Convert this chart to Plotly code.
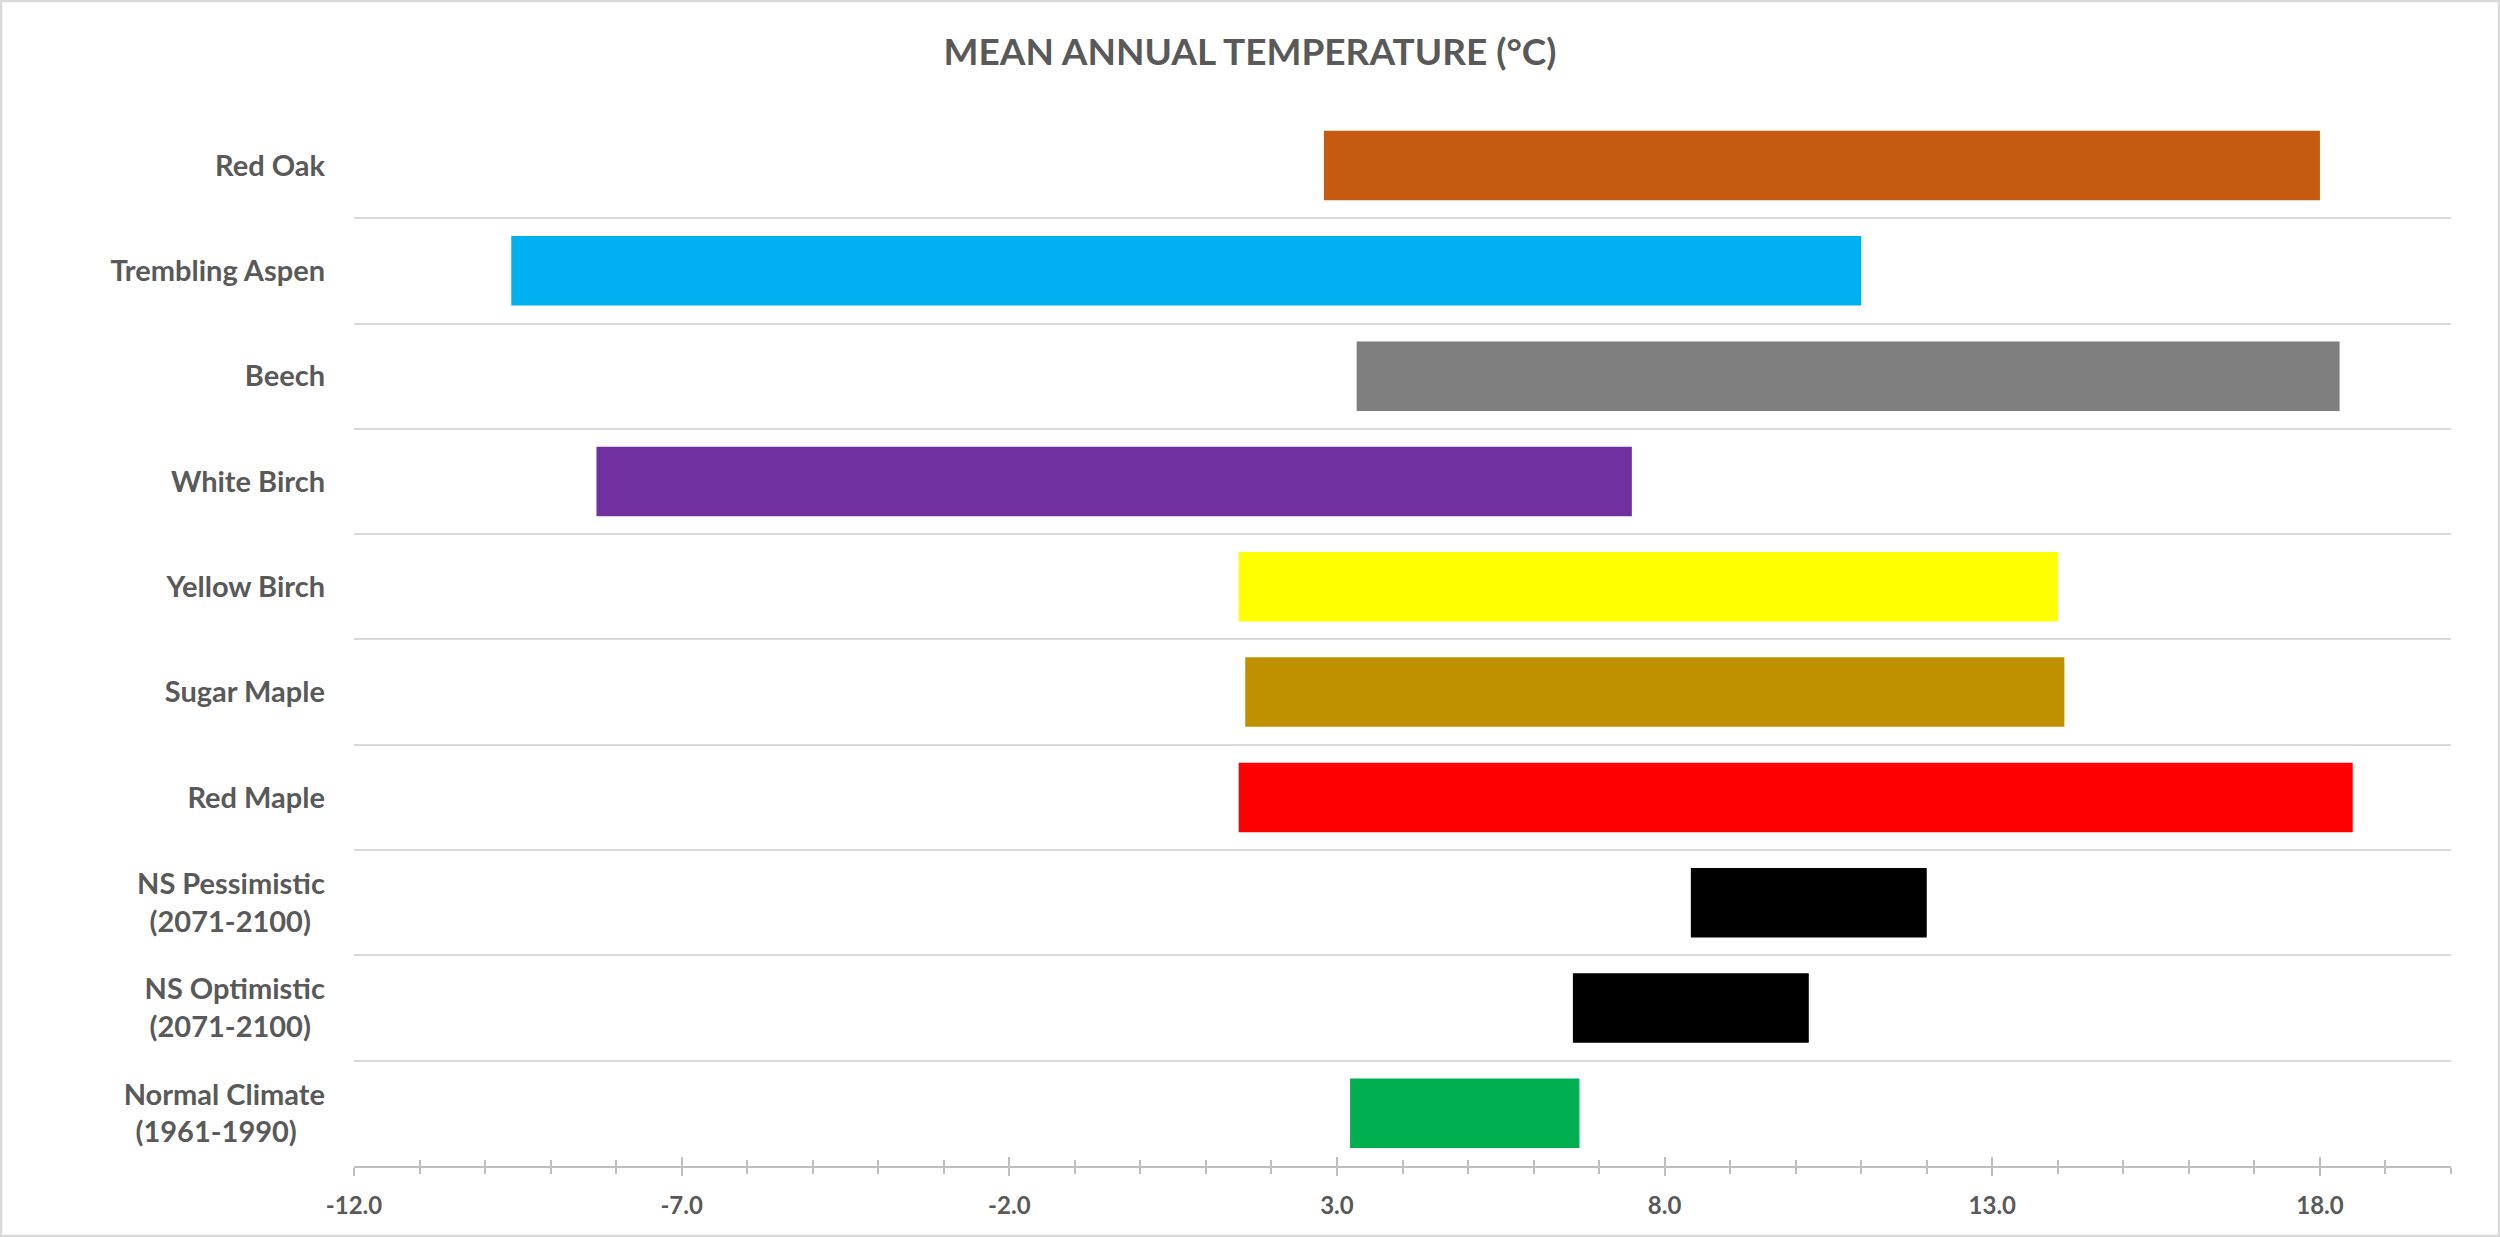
import plotly.graph_objects as go

# ---- data (top to bottom as shown) ----
categories = [
    "Red Oak",
    "Trembling Aspen",
    "Beech",
    "White Birch",
    "Yellow Birch",
    "Sugar Maple",
    "Red Maple",
    "NS Pessimistic<br>(2071-2100)\u00a0\u00a0",
    "NS Optimistic<br>(2071-2100)\u00a0\u00a0",
    "Normal Climate<br>(1961-1990)\u00a0\u00a0\u00a0\u00a0",
]
range_start = [2.8, -9.6, 3.3, -8.3, 1.5, 1.6, 1.5, 8.4, 6.6, 3.2]
range_end = [18.0, 11.0, 18.3, 7.5, 14.0, 14.1, 18.5, 12.0, 10.2, 6.7]
bar_colors = ["#C55A11", "#00B0F0", "#7F7F7F", "#7030A0", "#FFFF00",
              "#BF9000", "#FF0000", "#000000", "#000000", "#00B050"]
x_major_ticks = [-12.0, -7.0, -2.0, 3.0, 8.0, 13.0, 18.0]
x_tick_labels = ["-12.0", "-7.0", "-2.0", "3.0", "8.0", "13.0", "18.0"]
title_text = "MEAN ANNUAL TEMPERATURE (°C)"

W, H = 2500, 1237
ML, MR, MT, MB = 354, 49, 113, 71
FONT = "Lato, Carlito, Calibri, 'Open Sans', sans-serif"
TXT = "#595959"
AX = "#BFBFBF"

widths = [e - s for s, e in zip(range_start, range_end)]

fig = go.Figure()
fig.add_trace(go.Bar(
    y=categories, x=widths, base=range_start, orientation="h",
    marker=dict(color=bar_colors, line=dict(width=0)),
    width=0.66, showlegend=False,
    hovertemplate="%{y}: %{base} to %{x}<extra></extra>",
))
# invisible helper trace on the overlay axis (for cross tick marks)
fig.add_trace(go.Scatter(x=[None], y=[None], xaxis="x2", yaxis="y",
                         showlegend=False, hoverinfo="skip"))

n = len(categories)
xr = [-12, 20]
fig.update_layout(
    width=W, height=H,
    margin=dict(l=ML, r=MR, t=MT, b=MB, pad=0),
    paper_bgcolor="white", plot_bgcolor="white",
    title=dict(text="<b>" + title_text + "</b>", x=0.5, xref="container",
               xanchor="center", y=1 - 52 / H, yref="container",
               yanchor="middle",
               font=dict(family=FONT, size=37, color=TXT)),
    xaxis=dict(
        range=xr, showgrid=False, zeroline=False,
        showline=True, linecolor=AX, linewidth=2,
        tickmode="array", tickvals=x_major_ticks,
        ticktext=["<b>" + t + "</b>" for t in x_tick_labels],
        ticks="outside", ticklen=8, tickwidth=1.5, tickcolor=AX,
        minor=dict(dtick=1, tick0=-12, ticks="outside", ticklen=6,
                   tickwidth=1.5, tickcolor=AX, showgrid=False),
        tickfont=dict(family=FONT, size=24, color=TXT),
        ticklabelstandoff=9,
    ),
    xaxis2=dict(
        range=xr, overlaying="x", anchor="y", side="bottom",
        showgrid=False, zeroline=False, showline=False, showticklabels=False,
        tickmode="array", tickvals=x_major_ticks,
        ticks="inside", ticklen=9, tickwidth=1.5, tickcolor=AX,
        minor=dict(dtick=1, tick0=-12, ticks="inside", ticklen=6,
                   tickwidth=1.5, tickcolor=AX, showgrid=False),
    ),
    yaxis=dict(
        range=[n - 0.5, -0.499], tickson="boundaries",
        showgrid=True, gridcolor="#D9D9D9", gridwidth=1.5,
        zeroline=False, showline=False, ticks="",
        tickfont=dict(family=FONT, size=29, color=TXT, weight=700),
        ticklabelstandoff=28,
    ),
    bargap=0.34,
)

# light chart-area border
pw = W - ML - MR
ph = H - MT - MB
fig.add_shape(type="rect", xref="paper", yref="paper",
              x0=-(ML - 1) / pw, x1=1 + (MR - 1) / pw,
              y0=-(MB - 1) / ph, y1=1 + (MT - 1) / ph,
              line=dict(color="#D9D9D9", width=2.5), layer="below")

fig.write_html("out.html")
